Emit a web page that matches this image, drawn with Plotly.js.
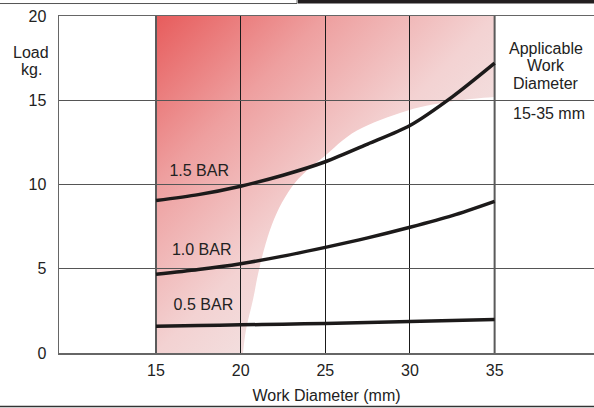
<!DOCTYPE html>
<html>
<head>
<meta charset="utf-8">
<script src="https://cdn.plot.ly/plotly-3.0.1.min.js"></script>
<style>html,body{margin:0;padding:0;background:#fff;}#chart{width:594px;height:408px;}</style>
</head>
<body>
<div id="chart"></div>
<script>
// ---- data ----
const workDiameter = [15, 17.5, 20, 22.5, 25, 27.5, 30, 32.5, 35];
const load15Bar = [9.05, 9.4, 9.9, 10.55, 11.35, 12.4, 13.5, 15.2, 17.2];
const load10Bar = [4.67, 4.95, 5.3, 5.75, 6.27, 6.83, 7.46, 8.15, 9.0];
const load05Bar = [1.59, 1.63, 1.67, 1.71, 1.75, 1.81, 1.87, 1.93, 1.99];
const curveLabels = ['1.5 BAR', '1.0 BAR', '0.5 BAR'];
const labelX = [17.55, 17.7, 17.8];
const labelY = [10.77, 6.04, 2.78];
// edge of the applicable (shaded) area: right/bottom boundary
const areaEdgeX = [20.14, 20.32, 20.73, 21.02, 21.38, 21.85, 22.44, 23.21, 24.10, 24.92, 26.87, 29.83, 32.78, 35];
const areaEdgeY = [0, 1.39, 3.17, 4.66, 6.14, 7.62, 8.93, 10.11, 11.0, 11.65, 13.2, 14.38, 14.98, 15.2];
const areaXMin = 15, areaXMax = 35, areaYMax = 20;
const xTicks = [15, 20, 25, 30, 35];
const yTicks = [0, 5, 10, 15, 20];
const xTitle = 'Work Diameter (mm)';
const yTitleLines = ['Load', 'kg.'];
const sideNoteLines = ['Applicable', 'Work', 'Diameter'];
const sideRange = '15-35 mm';

// ---- styling ----
const FONT = 'Liberation Sans, Arial, sans-serif';
const TXT = '#222';
const FS = 16;
const XR = [9.27, 40.87];
const YR = [0, 20];

// gradient image (styling) placed over the applicable area
const svg = '<svg xmlns="http://www.w3.org/2000/svg" width="200" height="200" viewBox="0 0 200 200" preserveAspectRatio="none">' +
  '<defs><linearGradient id="g" x1="0" y1="0" x2="1" y2="1">' +
  '<stop offset="0" stop-color="#e75c5c"/>' +
  '<stop offset="0.25" stop-color="#ee9f9f"/>' +
  '<stop offset="0.5" stop-color="#f3d2d2"/>' +
  '<stop offset="0.75" stop-color="#f2e9e9"/>' +
  '<stop offset="1" stop-color="#f5f4f4"/>' +
  '</linearGradient></defs><rect width="200" height="200" fill="url(#g)"/></svg>';
const imgSrc = 'data:image/svg+xml;base64,' + btoa(svg);
const px = v => (v - XR[0]) / (XR[1] - XR[0]);
const py = v => (v - YR[0]) / (YR[1] - YR[0]);

// white mask path from edge arrays (Catmull-Rom -> cubic bezier)
function maskPath() {
  const n = areaEdgeX.length;
  let d = 'M ' + areaEdgeX[0] + ',' + areaEdgeY[0];
  for (let i = 0; i < n - 1; i++) {
    const p0 = [areaEdgeX[Math.max(i - 1, 0)], areaEdgeY[Math.max(i - 1, 0)]];
    const p1 = [areaEdgeX[i], areaEdgeY[i]];
    const p2 = [areaEdgeX[i + 1], areaEdgeY[i + 1]];
    const p3 = [areaEdgeX[Math.min(i + 2, n - 1)], areaEdgeY[Math.min(i + 2, n - 1)]];
    const c1 = [p1[0] + (p2[0] - p0[0]) / 6, p1[1] + (p2[1] - p0[1]) / 6];
    const c2 = [p2[0] - (p3[0] - p1[0]) / 6, p2[1] - (p3[1] - p1[1]) / 6];
    d += ' C ' + c1.join(',') + ' ' + c2.join(',') + ' ' + p2.join(',');
  }
  d += ' L ' + areaXMax + ',' + areaEdgeY[n - 1] + ' L ' + areaXMax + ',0 Z';
  return d;
}

const lineStyle = {color: '#1c1a1a', width: 3.5, shape: 'spline', smoothing: 0.8};
const traces = [
  {x: workDiameter, y: load15Bar, mode: 'lines', line: lineStyle, hoverinfo: 'skip'},
  {x: workDiameter, y: load10Bar, mode: 'lines', line: lineStyle, hoverinfo: 'skip'},
  {x: workDiameter, y: load05Bar, mode: 'lines', line: lineStyle, hoverinfo: 'skip'},
  {x: labelX, y: labelY, mode: 'text', text: curveLabels, textposition: 'middle center',
   textfont: {family: FONT, size: FS, color: TXT}, hoverinfo: 'skip'}
];

const annotations = [];
const yTitleY = [0.893, 0.840];
yTitleLines.forEach((t, i) => annotations.push({text: t, xref: 'paper', yref: 'paper', x: -0.052, y: yTitleY[i],
  xanchor: 'center', yanchor: 'middle', showarrow: false, font: {family: FONT, size: FS, color: TXT}}));
const sideY = [0.905, 0.853, 0.800];
sideNoteLines.forEach((t, i) => annotations.push({text: t, xref: 'paper', yref: 'paper', x: 0.910, y: sideY[i],
  xanchor: 'center', yanchor: 'middle', showarrow: false, font: {family: FONT, size: FS, color: TXT}}));
annotations.push({text: sideRange, xref: 'paper', yref: 'paper', x: 0.915, y: 0.712,
  xanchor: 'center', yanchor: 'middle', showarrow: false, font: {family: FONT, size: FS, color: TXT}});

const shapes = [
  {type: 'path', xref: 'x', yref: 'y', layer: 'below', path: maskPath(), fillcolor: '#ffffff', line: {width: 0}},
  {type: 'line', xref: 'x', yref: 'y', layer: 'between', x0: areaXMin, x1: areaXMin, y0: YR[0], y1: YR[1], line: {color: '#5a5a5a', width: 2}},
  {type: 'line', xref: 'x', yref: 'y', layer: 'between', x0: areaXMax, x1: areaXMax, y0: YR[0], y1: YR[1], line: {color: '#5a5a5a', width: 2}},
  // page frame remnants
  {type: 'rect', xref: 'paper', yref: 'paper', x0: -0.112, x1: 0.445, y0: 1.037, y1: 1.06, fillcolor: '#fff', line: {color: '#555', width: 1}},
  {type: 'rect', xref: 'paper', yref: 'paper', x0: 0.4467, x1: 1.01, y0: 1.037, y1: 1.06, fillcolor: '#231f20', line: {width: 0}},
  {type: 'line', xref: 'paper', yref: 'paper', x0: -0.12, x1: 1.01, y0: -0.1588, y1: -0.1588, line: {color: '#333', width: 1.5}}
];

const layout = {
  width: 594, height: 408,
  margin: {l: 59, r: 0, t: 16, b: 55},
  paper_bgcolor: '#fff', plot_bgcolor: '#fff',
  showlegend: false,
  font: {family: FONT, size: FS, color: TXT},
  xaxis: {range: XR, tickvals: xTicks, ticks: '', showgrid: true, gridcolor: '#1a1a1a', gridwidth: 1,
          showline: true, linecolor: '#666', linewidth: 1.5, mirror: true, zeroline: false,
          ticklabelstandoff: 2, tickfont: {family: FONT, size: FS, color: TXT},
          title: {text: xTitle, font: {family: FONT, size: FS, color: TXT}, standoff: 12}},
  yaxis: {range: YR, tickvals: yTicks, ticks: '', showgrid: true, gridcolor: '#555', gridwidth: 1,
          showline: true, linecolor: '#666', linewidth: 1.5, zeroline: false,
          ticklabelstandoff: 8, tickfont: {family: FONT, size: FS, color: TXT}},
  images: [{source: imgSrc, xref: 'paper', yref: 'paper', x: px(areaXMin), y: py(areaYMax),
            sizex: px(areaXMax) - px(areaXMin), sizey: py(areaYMax) - py(0), xanchor: 'left', yanchor: 'top',
            sizing: 'stretch', layer: 'below'}],
  shapes: shapes,
  annotations: annotations
};

Plotly.newPlot('chart', traces, layout, {displayModeBar: false, staticPlot: true});
</script>
</body>
</html>
